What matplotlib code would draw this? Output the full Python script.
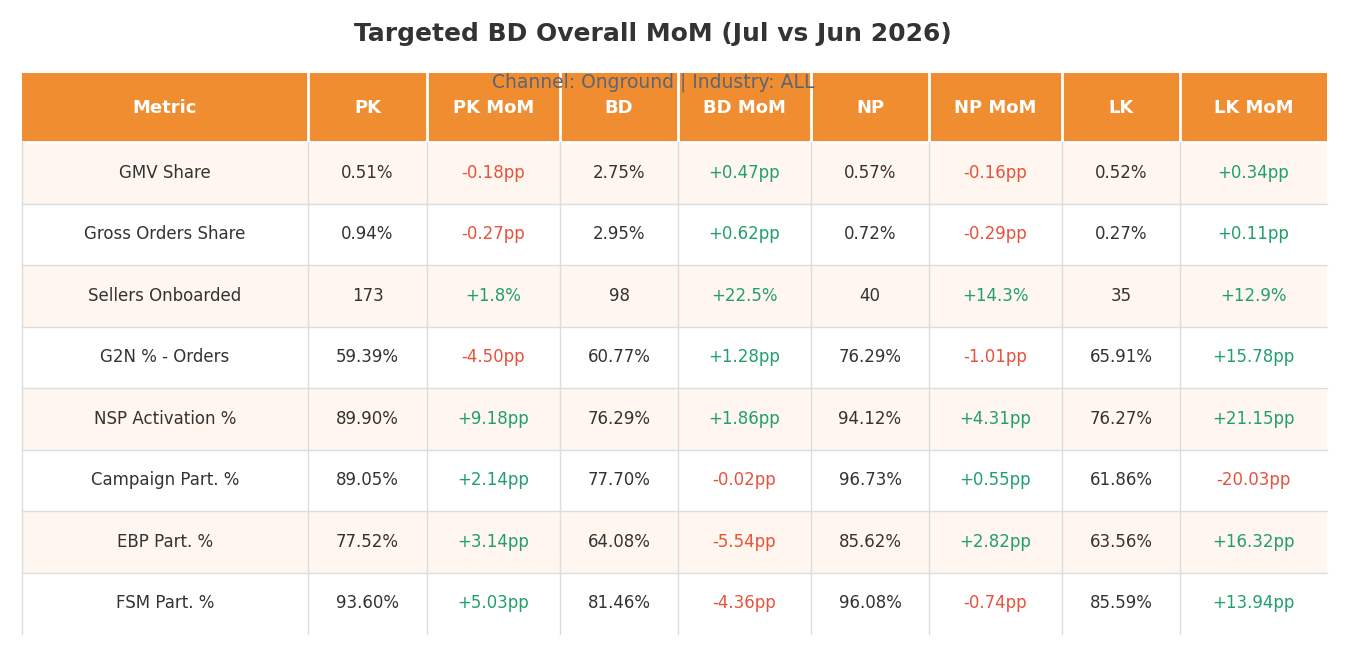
import matplotlib
matplotlib.use("Agg")
import matplotlib.pyplot as plt
from matplotlib.patches import Rectangle

plt.rcParams['font.family'] = ['DejaVu Sans']

title = "Targeted BD Overall MoM (Jul vs Jun 2026)"
subtitle = "Channel: Onground | Industry: ALL"
columns = ["Metric", "PK", "PK MoM", "BD", "BD MoM", "NP", "NP MoM", "LK", "LK MoM"]
metrics = ["GMV Share", "Gross Orders Share", "Sellers Onboarded", "G2N % - Orders",
           "NSP Activation %", "Campaign Part. %", "EBP Part. %", "FSM Part. %"]
pk = ["0.51%", "0.94%", "173", "59.39%", "89.90%", "89.05%", "77.52%", "93.60%"]
pk_mom = ["-0.18pp", "-0.27pp", "+1.8%", "-4.50pp", "+9.18pp", "+2.14pp", "+3.14pp", "+5.03pp"]
bd = ["2.75%", "2.95%", "98", "60.77%", "76.29%", "77.70%", "64.08%", "81.46%"]
bd_mom = ["+0.47pp", "+0.62pp", "+22.5%", "+1.28pp", "+1.86pp", "-0.02pp", "-5.54pp", "-4.36pp"]
np_ = ["0.57%", "0.72%", "40", "76.29%", "94.12%", "96.73%", "85.62%", "96.08%"]
np_mom = ["-0.16pp", "-0.29pp", "+14.3%", "-1.01pp", "+4.31pp", "+0.55pp", "+2.82pp", "-0.74pp"]
lk = ["0.52%", "0.27%", "35", "65.91%", "76.27%", "61.86%", "63.56%", "85.59%"]
lk_mom = ["+0.34pp", "+0.11pp", "+12.9%", "+15.78pp", "+21.15pp", "-20.03pp", "+16.32pp", "+13.94pp"]

col_widths = [286, 119, 133, 118, 133, 118, 133, 118, 147]

HEADER = "#F08D30"
ALT = "#FEF6EF"
GRID = "#DDDDDD"
TXT = "#333333"
GREEN = "#22A06B"
RED = "#E5533D"

fig = plt.figure(figsize=(13.49, 6.56), dpi=100)
ax = fig.add_axes([22/1349, 22/656, 1305/1349, 561/656])
total_w = sum(col_widths)
header_h = 69
row_h = 61.5
n = len(metrics)
total_h = header_h + n * row_h
ax.set_xlim(0, total_w)
ax.set_ylim(total_h, 0)
ax.axis('off')

data_cols = [metrics, pk, pk_mom, bd, bd_mom, np_, np_mom, lk, lk_mom]
edges = [0]
for w in col_widths:
    edges.append(edges[-1] + w)

# header
for j, name in enumerate(columns):
    x0 = edges[j]
    ax.add_patch(Rectangle((x0, 0), col_widths[j], header_h, facecolor=HEADER,
                           edgecolor='none', clip_on=False))
    ax.text(x0 + col_widths[j] / 2, header_h / 2, name, ha='center', va='center',
            color='white', fontsize=13, fontweight='bold')
for j in range(1, len(columns)):
    ax.plot([edges[j], edges[j]], [0, header_h], color='white', lw=2, clip_on=False)

# body
for i in range(n):
    y0 = header_h + i * row_h
    bg = ALT if i % 2 == 0 else "white"
    ax.add_patch(Rectangle((0, y0), total_w, row_h, facecolor=bg, edgecolor='none',
                           clip_on=False))
    ax.plot([0, total_w], [y0, y0], color=GRID, lw=1, clip_on=False)
    for j in range(len(columns)):
        val = data_cols[j][i]
        color = TXT
        if columns[j].endswith("MoM"):
            color = GREEN if val.startswith("+") else RED
        ax.text(edges[j] + col_widths[j] / 2, y0 + row_h / 2, val, ha='center',
                va='center', color=color, fontsize=12)
ax.plot([0, total_w], [header_h, header_h], color="white", lw=2, clip_on=False)
for j in range(0, len(columns)):
    ax.plot([edges[j], edges[j]], [header_h, total_h], color=GRID, lw=1, clip_on=False)

fig.text(0.484, 1 - 34/656, title, ha='center', va='center', fontsize=18,
         fontweight='bold', color=TXT)
fig.text(0.484, 1 - 82/656, subtitle, ha='center', va='center', fontsize=13.5,
         color="#5D6573")

fig.savefig("out.png", dpi=100, facecolor='white')
